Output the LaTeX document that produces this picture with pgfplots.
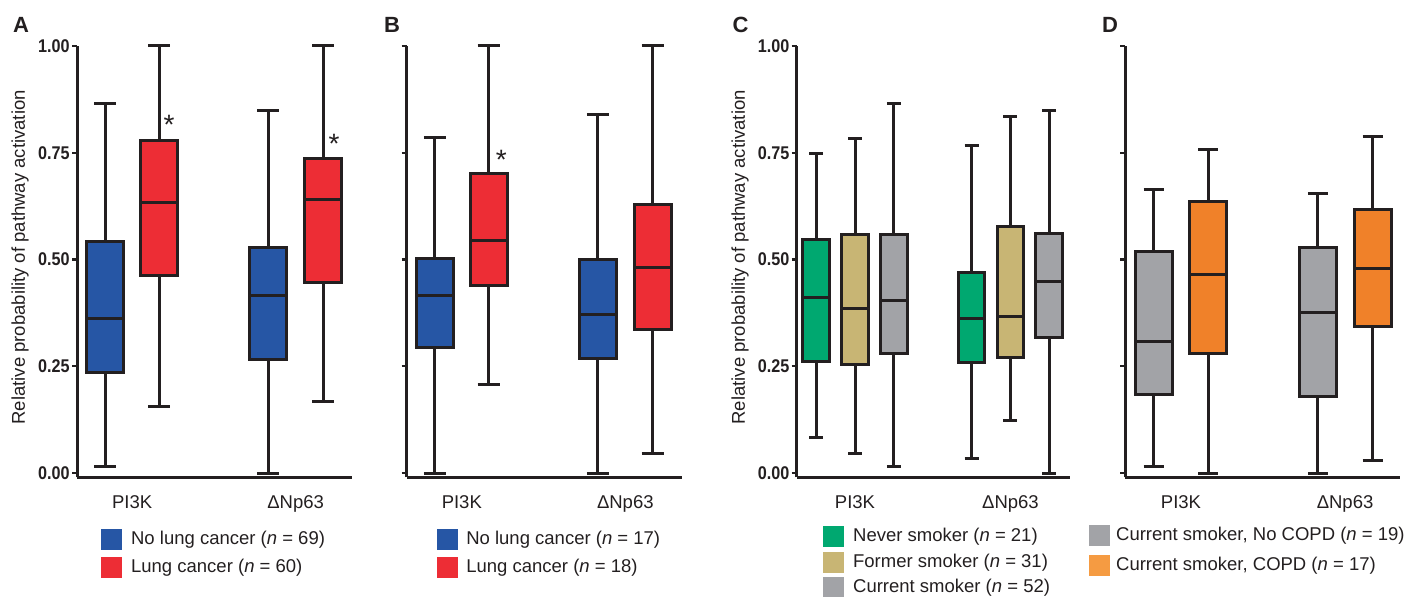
\documentclass[border=0pt]{standalone}
\usepackage{fontspec}
\setmainfont{Liberation Sans}
\newfontfamily\tickfont{Liberation Sans}[FakeStretch=0.88]
\usepackage{pgfplots}
\pgfplotsset{compat=1.18}
\usepgfplotslibrary{statistics}

\definecolor{ink}{HTML}{231F20}
\definecolor{cblue}{HTML}{2656A5}
\definecolor{cred}{HTML}{ED2D35}
\definecolor{cgreen}{HTML}{00A870}
\definecolor{ctan}{HTML}{C8B574}
\definecolor{cgray}{HTML}{A2A3A7}
\definecolor{corange}{HTML}{F08129}
\definecolor{corangeleg}{HTML}{F59B42}

% one box: colour, position, lower whisker, lower quartile, median, upper quartile, upper whisker
\newcommand{\bx}[7]{\addplot[forget plot, draw=ink, fill=#1, line width=1.5pt,
  boxplot prepared={draw position=#2, lower whisker=#3, lower quartile=#4,
  median=#5, upper quartile=#6, upper whisker=#7}] coordinates {};}
\newcommand{\leg}[2]{\addlegendimage{legend image code/.code={\fill[#1] (0pt,-5pt) rectangle (10pt,5pt);}}\addlegendentry{#2}}
\newcommand{\signif}{\node[font=\fontsize{14}{14}\selectfont, text=ink]}

\pgfplotsset{
  panel/.style={
    scale only axis, width=137.5pt, height=215.65pt,
    ymin=-0.01, ymax=1, xmin=0.663, xmax=2.345,
    axis lines*=left, axis line style={ink, line width=1.5pt},
    ytick={0,0.25,0.5,0.75,1}, tick align=outside, major tick length=2.5pt,
    ytick style={ink, line width=1.2pt},
    yticklabel style={font=\tickfont\bfseries\fontsize{9.2}{10}\selectfont, text=ink, inner sep=1pt,
      /pgf/number format/.cd, fixed, fixed zerofill, precision=2, assume math mode=true},
    xtick={1,2}, xticklabels={PI3K,ΔNp63}, xtick style={draw=none},
    xticklabel style={font=\fontsize{9.25}{10}\selectfont, text=ink, anchor=north, yshift=-3pt},
    ylabel={Relative probability of pathway activation},
    ylabel style={font=\fontsize{9.25}{10}\selectfont, text=ink, at={(axis description cs:-0.207,0.51)}, anchor=center},
    boxplot/draw direction=y,
    boxplot/box extend=0.226, boxplot/whisker extend=0.135,
    clip=false,
    legend cell align=left,
    legend style={draw=none, fill=none, inner sep=0pt, row sep=4pt, anchor=north west,
      font=\fontsize{9.25}{10}\selectfont, text=ink, nodes={inner sep=0pt}},
    /tikz/every odd column/.append style={column sep=4.5pt},
  },
}

\begin{document}
\begin{tikzpicture}
\path[use as bounding box] (0pt,0pt) rectangle (703pt,-298.5pt);

% A
\begin{axis}[panel, at={(38.5pt,-238.65pt)}, anchor=south west,
  legend style={at={(axis description cs:0.087,-0.118)}}]
\bx{cblue}{0.835}{0.016}{0.235}{0.362}{0.542}{0.866}
\bx{cred}{1.165}{0.155}{0.462}{0.633}{0.778}{1.000}
\bx{cblue}{1.832}{0.000}{0.265}{0.415}{0.529}{0.848}
\bx{cred}{2.168}{0.167}{0.446}{0.641}{0.736}{1.000}
\leg{cblue}{No lung cancer (\textit{n} = 69)}
\leg{cred}{Lung cancer (\textit{n} = 60)}
\signif at (axis cs:1.226,0.815) {*};
\signif at (axis cs:2.235,0.770) {*};
\end{axis}

% B
\begin{axis}[panel, at={(203.35pt,-238.65pt)}, anchor=south west, yticklabels={}, ylabel={},
  legend style={at={(axis description cs:0.107,-0.118)}}]
\bx{cblue}{0.835}{0.000}{0.293}{0.415}{0.502}{0.786}
\bx{cred}{1.165}{0.208}{0.438}{0.544}{0.702}{1.000}
\bx{cblue}{1.832}{0.000}{0.268}{0.372}{0.500}{0.840}
\bx{cred}{2.168}{0.046}{0.335}{0.481}{0.628}{1.000}
\leg{cblue}{No lung cancer (\textit{n} = 17)}
\leg{cred}{Lung cancer (\textit{n} = 18)}
\signif at (axis cs:1.242,0.733) {*};
\end{axis}

% C
\begin{axis}[panel, at={(398.35pt,-238.65pt)}, anchor=south west, width=136.65pt,
  xmin=0.625, xmax=2.383, boxplot/box extend=0.172, boxplot/whisker extend=0.09,
  legend style={at={(axis description cs:0.096,-0.1118)}, row sep=2.4pt}]
\bx{cgreen}{0.75}{0.083}{0.262}{0.411}{0.547}{0.749}
\bx{ctan}{1.00}{0.046}{0.253}{0.386}{0.559}{0.784}
\bx{cgray}{1.25}{0.016}{0.280}{0.403}{0.559}{0.866}
\bx{cgreen}{1.75}{0.034}{0.258}{0.362}{0.469}{0.767}
\bx{ctan}{2.00}{0.122}{0.271}{0.366}{0.577}{0.834}
\bx{cgray}{2.25}{0.000}{0.317}{0.448}{0.560}{0.848}
\leg{cgreen}{Never smoker (\textit{n} = 21)}
\leg{ctan}{Former smoker (\textit{n} = 31)}
\leg{cgray}{Current smoker (\textit{n} = 52)}
\end{axis}

% D
\begin{axis}[panel, at={(562.5pt,-238.65pt)}, anchor=south west, yticklabels={}, ylabel={},
  xmin=0.659, xmax=2.335, boxplot/whisker extend=0.122,
  /tikz/every odd column/.append style={column sep=3pt},
  legend style={at={(axis description cs:-0.131,-0.1085)}, row sep=5pt}]
\bx{cgray}{0.834}{0.016}{0.183}{0.308}{0.518}{0.665}
\bx{corange}{1.166}{0.000}{0.280}{0.465}{0.637}{0.758}
\bx{cgray}{1.834}{0.000}{0.179}{0.375}{0.528}{0.655}
\bx{corange}{2.168}{0.029}{0.343}{0.478}{0.616}{0.788}
\leg{cgray}{Current smoker, No COPD (\textit{n} = 19)}
\leg{corangeleg}{Current smoker, COPD (\textit{n} = 17)}
\end{axis}

\node[font=\bfseries\fontsize{11}{11}\selectfont, text=ink] at (10.5pt,-12.5pt) {A};
\node[font=\bfseries\fontsize{11}{11}\selectfont, text=ink] at (196pt,-12.5pt) {B};
\node[font=\bfseries\fontsize{11}{11}\selectfont, text=ink] at (370.25pt,-12.5pt) {C};
\node[font=\bfseries\fontsize{11}{11}\selectfont, text=ink] at (555pt,-12.5pt) {D};
\end{tikzpicture}
\end{document}
